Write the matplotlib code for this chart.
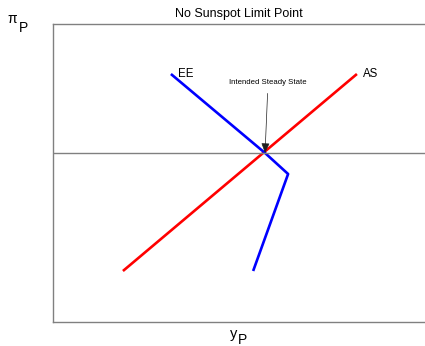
import matplotlib
matplotlib.use('Agg')
import matplotlib.pyplot as plt

plt.rcParams['font.family'] = ['Liberation Sans', 'DejaVu Sans']

# curve vertices (model units)
as_x = [1.88, 8.17]
as_y = [-1.18, 0.79]
ee_x = [3.17, 5.70, 6.32, 5.38]
ee_y = [0.79, 0.0, -0.21, -1.18]
steady = (5.70, 0.0)

W, H = 425, 346
fig = plt.figure(figsize=(W / 100, H / 100), dpi=100)
ax = fig.add_axes([53 / W, 24 / H, 372 / W, 298 / H])

ax.plot(as_x, as_y, color='#ff0000', lw=1.9, solid_capstyle='butt')
ax.plot(ee_x, ee_y, color='#0000ff', lw=1.9, solid_capstyle='butt')
ax.axhline(0, color='#808080', lw=1)

ax.text(ee_x[0] + 0.19, ee_y[0], 'EE', fontsize=8.3, va='center', ha='left')
ax.text(as_x[1] + 0.16, as_y[1], 'AS', fontsize=8.3, va='center', ha='left')
ax.annotate('Intended Steady State', xy=steady, xytext=(5.78, 0.70),
            fontsize=5.6, ha='center', va='center',
            arrowprops=dict(arrowstyle='-|>,head_length=0.6,head_width=0.25',
                            color='#202020', lw=0.5,
                            mutation_scale=10, shrinkA=3, shrinkB=0))

ax.set_xlim(0, 10)
ax.set_ylim(-1.69, 1.29)
ax.set_xticks([])
ax.set_yticks([])
for side in ['left', 'top', 'bottom']:
    ax.spines[side].set_color('#808080')
    ax.spines[side].set_linewidth(1)
ax.spines['right'].set_visible(False)

ax.set_title('No Sunspot Limit Point', fontsize=9, pad=5)

# axis labels: symbol plus full-size lowered subscript
fig.text(12.5 / W, 1 - 19 / H, '\u03c0', fontsize=10, ha='center', va='center')
fig.text(23 / W, 1 - 27.5 / H, 'P', fontsize=10, ha='center', va='center')
fig.text(233.5 / W, 1 - 334 / H, 'y', fontsize=10.5, ha='center', va='center')
fig.text(242 / W, 1 - 339.5 / H, 'P', fontsize=10, ha='center', va='center')

fig.savefig('out.png', dpi=100)
